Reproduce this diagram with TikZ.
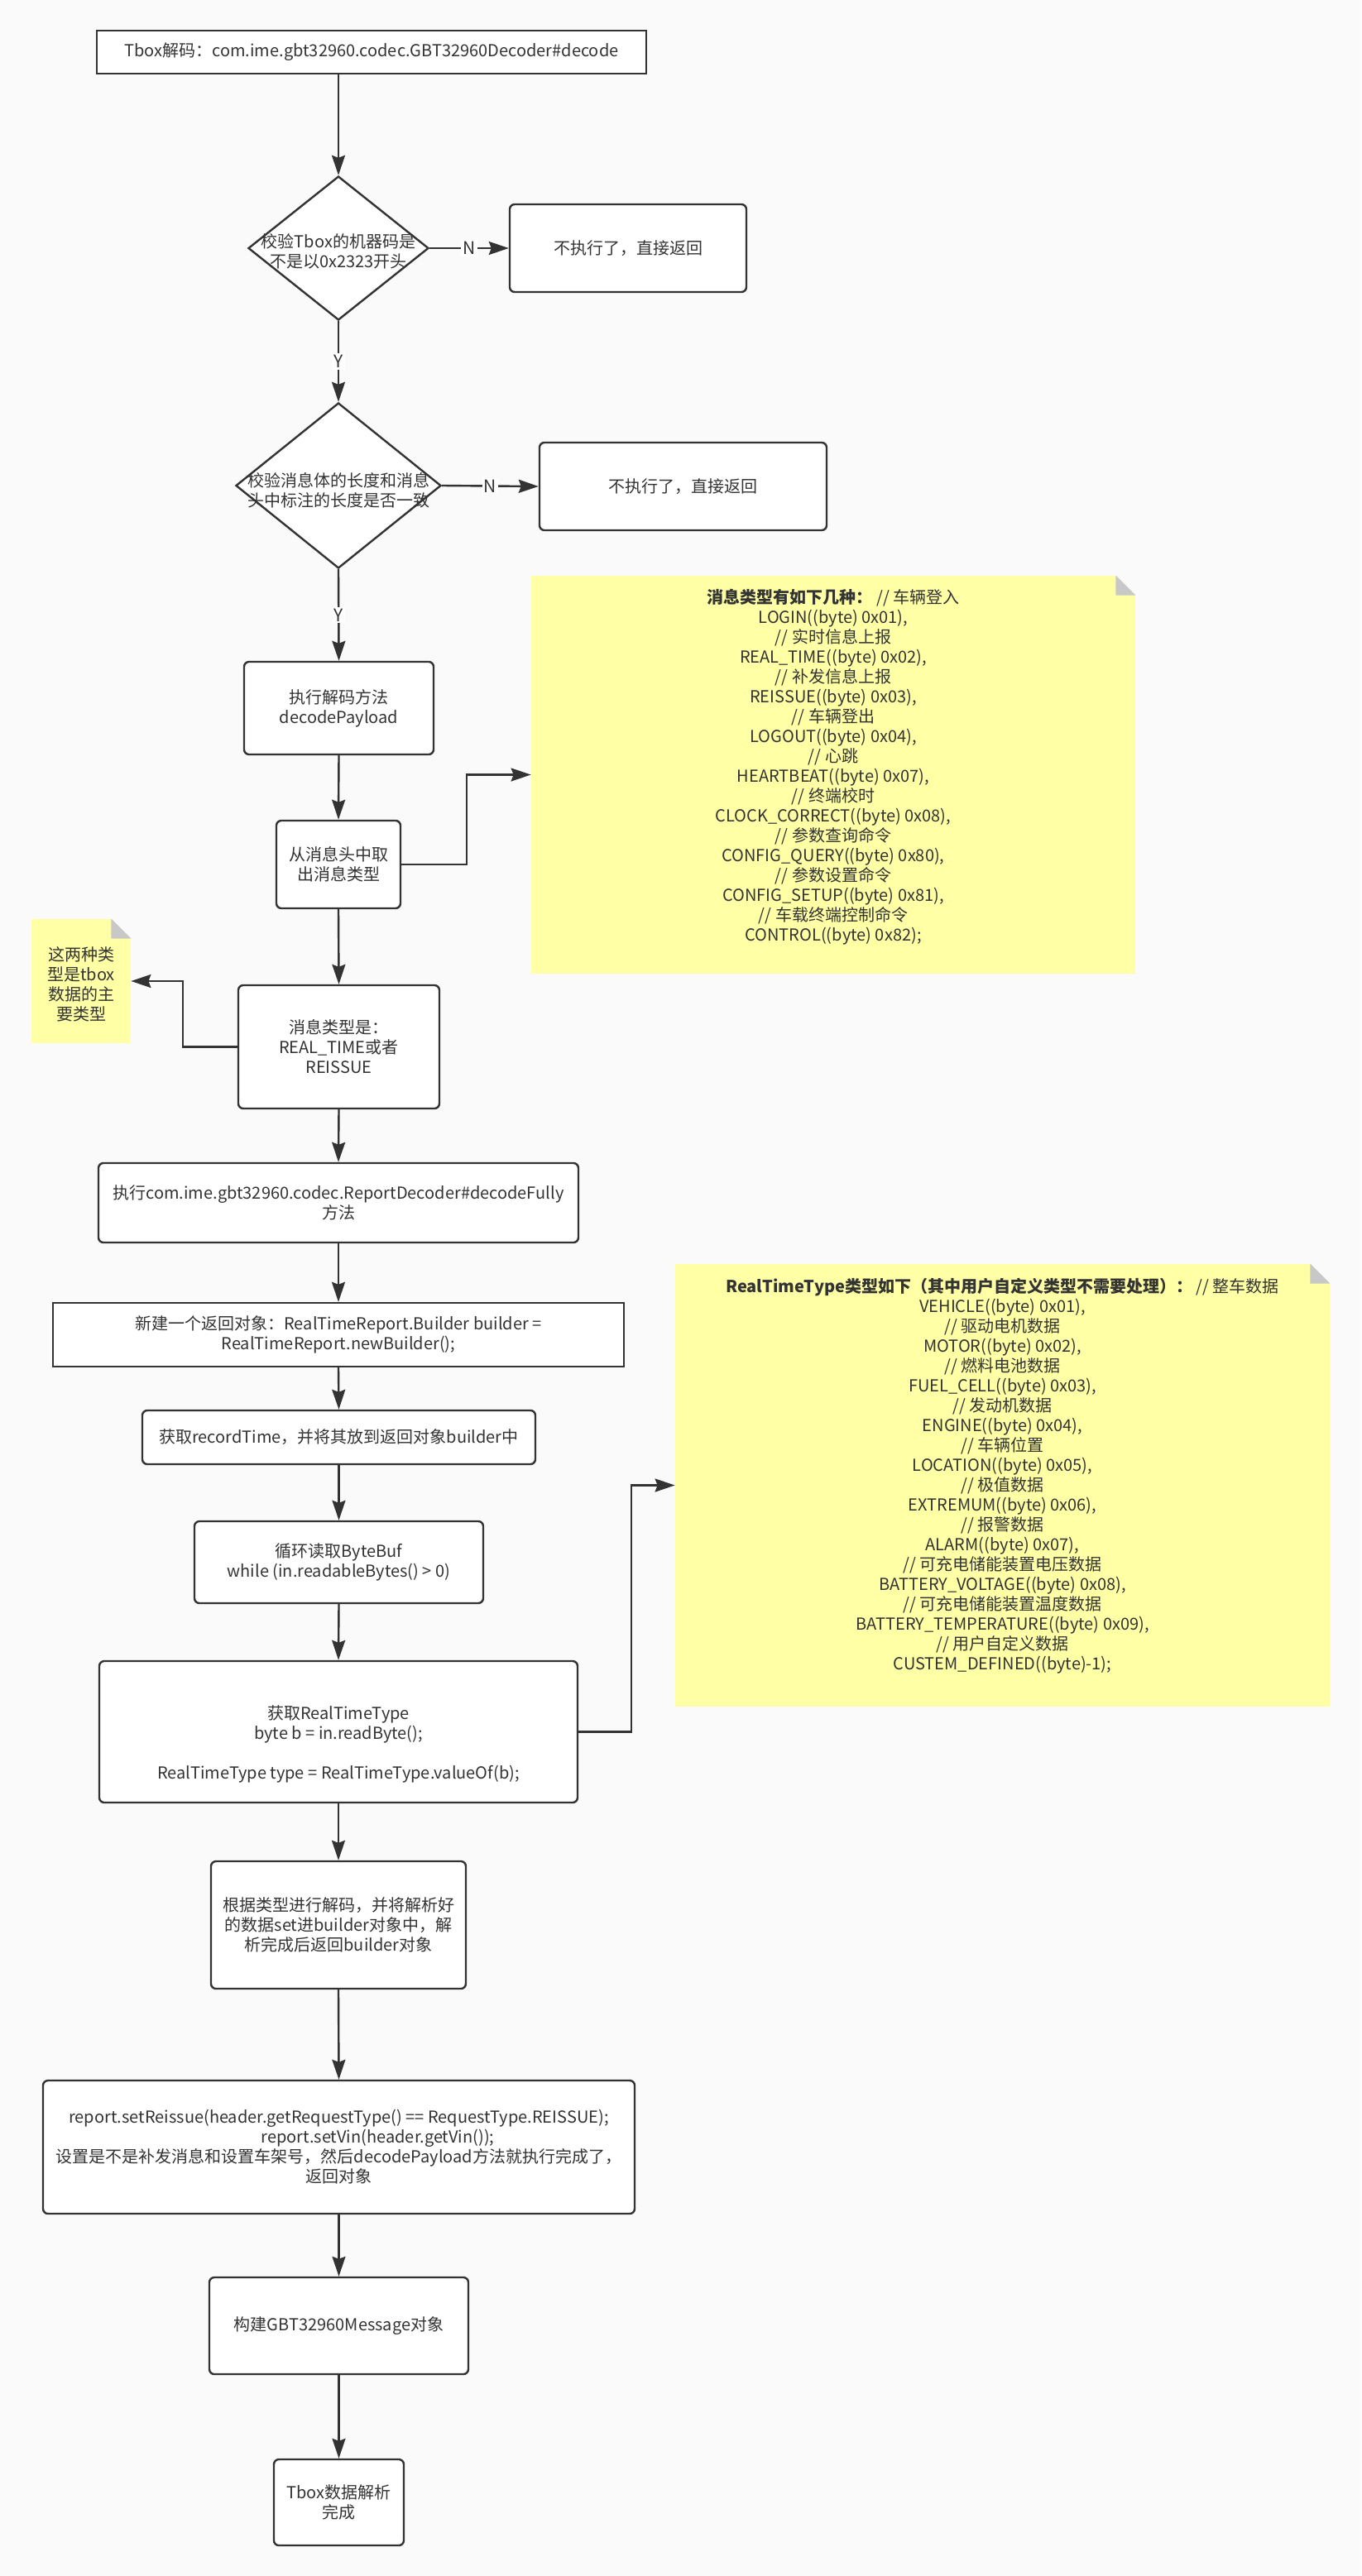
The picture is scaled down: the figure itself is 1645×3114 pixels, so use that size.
\documentclass[tikz,border=0pt]{standalone}
\usepackage{fontspec}
\setmainfont{Noto Sans CJK SC}
\usetikzlibrary{arrows.meta,shapes.geometric}
\definecolor{ln}{HTML}{333333}
\definecolor{bgc}{HTML}{FAFAFA}
\definecolor{notey}{HTML}{FFFFA6}
\definecolor{foldc}{HTML}{C8C8C8}
\tikzset{
  base/.style={draw=ln, line width=1.2pt, fill=white, text=ln, align=center,
    font=\fontsize{10}{12}\selectfont, inner sep=0pt},
  rbox/.style={base, rounded corners=3pt},
  sbox/.style={base},
  dia/.style={base, diamond},
  txt/.style={text=ln, align=center, font=\fontsize{10}{12}\selectfont, inner sep=0pt},
  notebox/.style={fill=notey, inner sep=0pt},
  lbl/.style={fill=white, text=ln, font=\fontsize{10.5}{12}\selectfont, inner sep=1pt},
  arr/.style={draw=ln, line width=1.2pt, -{Stealth[length=12pt,width=8pt,inset=1.5pt]}},
}
\begin{document}
\begin{tikzpicture}[x=0.5pt,y=-0.5pt]
\fill[bgc] (0,0) rectangle (1645,3114);
\useasboundingbox (0,0) rectangle (1645,3114);

% main column
\node[sbox, minimum width=332pt, minimum height=26pt] (start) at (449,63)
  {Tbox解码：com.ime.gbt32960.codec.GBT32960Decoder\#decode};

\node[dia, minimum width=109pt, minimum height=87pt] (d1) at (409,300) {};
\node[txt] (d1t) at (409,304) {校验Tbox的机器码是\\不是以0x2323开头};
\node[rbox, minimum width=143pt, minimum height=53pt] (no1) at (759,300) {不执行了，直接返回};

\node[dia, minimum width=124pt, minimum height=100pt] (d2) at (409,587) {};
\node[txt] (d2t) at (409,593) {校验消息体的长度和消息\\头中标注的长度是否一致};
\node[rbox, minimum width=173.5pt, minimum height=53pt] (no2) at (825.5,588) {不执行了，直接返回};

\node[rbox, minimum width=114.5pt, minimum height=56pt] (dp) at (409.5,856) {执行解码方法\\decodePayload};
\node[rbox, minimum width=75pt, minimum height=53pt] (hdr) at (409,1045) {从消息头中取\\出消息类型};

\node[rbox, minimum width=121.5pt, minimum height=74.5pt] (mt) at (409.5,1265.5) {消息类型是：\\REAL\_TIME或者\\REISSUE};

\node[rbox, minimum width=290pt, minimum height=48pt] (full) at (409,1454)
  {执行com.ime.gbt32960.codec.ReportDecoder\#decodeFully\\方法};
\node[sbox, minimum width=345pt, minimum height=38.5pt] (nb) at (409,1613.5)
  {新建一个返回对象：RealTimeReport.Builder builder =\\RealTimeReport.newBuilder();};
\node[rbox, minimum width=237.5pt, minimum height=32.5pt] (rt) at (409.5,1737.5)
  {获取recordTime，并将其放到返回对象builder中};
\node[rbox, minimum width=174.5pt, minimum height=49.5pt] (loop) at (409.5,1888.5)
  {循环读取ByteBuf\\while (in.readableBytes() > 0)};
\node[rbox, minimum width=289pt, minimum height=85.5pt] (rtt) at (409,2093.5) {};
\node[txt] (rttt) at (409,2108)
  {获取RealTimeType\\byte b = in.readByte();\\[12pt]RealTimeType type = RealTimeType.valueOf(b);};

\node[rbox, minimum width=154pt, minimum height=77pt] (dec) at (409,2327)
  {根据类型进行解码，并将解析好\\的数据set进builder对象中，解\\析完成后返回builder对象};
\node[rbox, minimum width=357.5pt, minimum height=80.5pt] (rep) at (409.5,2595.5)
  {report.setReissue(header.getRequestType() == RequestType.REISSUE);\\
   \hspace*{47pt}report.setVin(header.getVin());\\
   设置是不是补发消息和设置车架号，然后decodePayload方法就执行完成了，\\返回对象};
\node[rbox, minimum width=156.5pt, minimum height=58.5pt] (gbt) at (409.5,2811.5)
  {构建GBT32960Message对象};
\node[rbox, minimum width=78.5pt, minimum height=52pt] (fin) at (409.5,3025)
  {Tbox数据解析\\完成};

% notes
\node[notebox, minimum width=365pt, minimum height=240.5pt] (note1) at (1007,936.5) {};
\fill[bgc] (note1.north east) -- ++(-24,0) -- ++(24,24) -- cycle;
\fill[foldc] (note1.north east) ++(-24,0) -- ++(0,24) -- ++(24,0) -- cycle;
\node[txt] (note1t) at (1007,927) {%
  {\bfseries 消息类型有如下几种：} // 车辆登入\\
  LOGIN((byte) 0x01),\\
  // 实时信息上报\\
  REAL\_TIME((byte) 0x02),\\
  // 补发信息上报\\
  REISSUE((byte) 0x03),\\
  // 车辆登出\\
  LOGOUT((byte) 0x04),\\
  // 心跳\\
  HEARTBEAT((byte) 0x07),\\
  // 终端校时\\
  CLOCK\_CORRECT((byte) 0x08),\\
  // 参数查询命令\\
  CONFIG\_QUERY((byte) 0x80),\\
  // 参数设置命令\\
  CONFIG\_SETUP((byte) 0x81),\\
  // 车载终端控制命令\\
  CONTROL((byte) 0x82);};

\node[notebox, minimum width=60pt, minimum height=75pt] (sn) at (98,1186) {};
\fill[bgc] (sn.north east) -- ++(-24,0) -- ++(24,24) -- cycle;
\fill[foldc] (sn.north east) ++(-24,0) -- ++(0,24) -- ++(24,0) -- cycle;
\node[txt] (snt) at (98,1190) {这两种类\\型是tbox\\数据的主\\要类型};

\node[notebox, minimum width=395.5pt, minimum height=267.5pt] (note2) at (1211.5,1795.5) {};
\fill[bgc] (note2.north east) -- ++(-24,0) -- ++(24,24) -- cycle;
\fill[foldc] (note2.north east) ++(-24,0) -- ++(0,24) -- ++(24,0) -- cycle;
\node[txt] (note2t) at (1211.5,1784.5) {%
  {\bfseries RealTimeType类型如下（其中用户自定义类型不需要处理）：} // 整车数据\\
  VEHICLE((byte) 0x01),\\
  // 驱动电机数据\\
  MOTOR((byte) 0x02),\\
  // 燃料电池数据\\
  FUEL\_CELL((byte) 0x03),\\
  // 发动机数据\\
  ENGINE((byte) 0x04),\\
  // 车辆位置\\
  LOCATION((byte) 0x05),\\
  // 极值数据\\
  EXTREMUM((byte) 0x06),\\
  // 报警数据\\
  ALARM((byte) 0x07),\\
  // 可充电储能装置电压数据\\
  BATTERY\_VOLTAGE((byte) 0x08),\\
  // 可充电储能装置温度数据\\
  BATTERY\_TEMPERATURE((byte) 0x09),\\
  // 用户自定义数据\\
  CUSTEM\_DEFINED((byte)-1);};

% connectors
\draw[arr] (d1.north |- start.south) -- (d1.north);
\draw[arr] (d1.east) -- node[lbl] {N} (no1.west);
\draw[arr] (d1.south) -- node[lbl] {Y} (d2.north);
\draw[arr] (d2.east) -- node[lbl] {N} (no2.west);
\draw[arr] (d2.south) -- node[lbl] {Y} (dp.north);
\draw[arr] (dp.south) -- (hdr.north);
\draw[arr] (hdr.east) -- ++(79,0) |- (note1.west);
\draw[arr] (hdr.south) -- (mt.north);
\draw[arr] (mt.west) -- ++(-66,0) |- (sn.east);
\draw[arr] (mt.south) -- (full.north);
\draw[arr] (full.south) -- (nb.north);
\draw[arr] (nb.south) -- (rt.north);
\draw[arr] (rt.south) -- (loop.north);
\draw[arr] (loop.south) -- (rtt.north);
\draw[arr] (rtt.east) -- ++(64,0) |- (note2.west);
\draw[arr] (rtt.south) -- (dec.north);
\draw[arr] (dec.south) -- (rep.north);
\draw[arr] (rep.south) -- (gbt.north);
\draw[arr] (gbt.south) -- (fin.north);
\end{tikzpicture}
\end{document}
